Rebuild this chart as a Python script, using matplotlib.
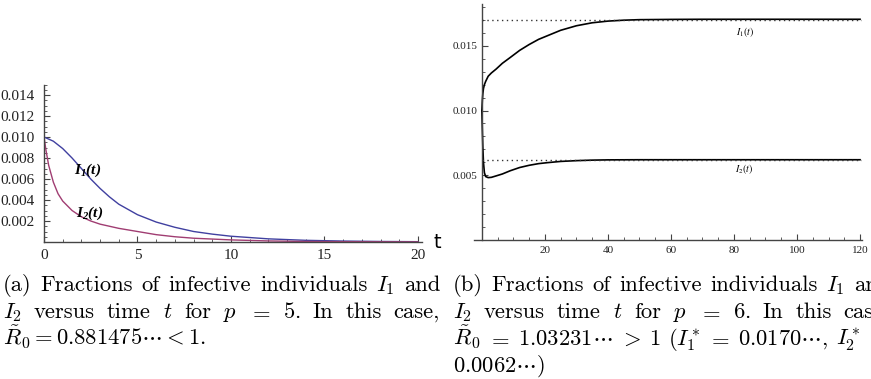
import matplotlib
matplotlib.use("Agg")
import matplotlib.pyplot as plt
from matplotlib.ticker import MultipleLocator, FixedLocator, FormatStrFormatter

# bold italic Times-like math for the left panel labels
plt.rcParams['mathtext.fontset'] = 'custom'
plt.rcParams['mathtext.it'] = 'Liberation Serif:italic:bold'
plt.rcParams['mathtext.rm'] = 'Liberation Serif:italic:bold'
plt.rcParams['mathtext.bf'] = 'Liberation Serif:italic:bold'

# Panel (a): p = 5, R0 < 1
t_a1 = [0, 0.5, 1, 1.5, 2, 2.5, 3, 3.5, 4, 4.5, 5, 6, 7, 8, 9, 10, 12, 14, 16, 18, 20]
I1_a = [0.0100, 0.0096, 0.0089, 0.0080, 0.0070, 0.0060, 0.0051, 0.0043, 0.0036, 0.0031, 0.0026,
        0.0019, 0.0014, 0.0010, 0.00075, 0.00055, 0.0003, 0.00016, 0.00009, 0.00005, 0.00003]
t_a2 = [0, 0.1, 0.25, 0.5, 0.75, 1, 1.5, 2, 2.5, 3, 4, 5, 6, 7, 8, 10, 12, 14, 16, 18, 20]
I2_a = [0.0100, 0.0088, 0.0073, 0.0057, 0.0046, 0.0039, 0.0030, 0.0024, 0.0020, 0.0017,
        0.0013, 0.0010, 0.0007, 0.0005, 0.00036, 0.0002, 0.0001, 0.00005, 0.00003, 0.00002, 0.00001]

# Panel (b): p = 6, R0 > 1
t_b1 = [0, 0.15, 0.3, 0.5, 0.8, 1.2, 2, 3, 4.5, 6.5, 9, 12, 15, 18, 21, 25, 30, 35, 40, 45, 50,
        60, 70, 80, 100, 120]
I1_b = [0.0100, 0.0108, 0.0113, 0.0117, 0.0120, 0.01225, 0.01265, 0.0129, 0.0132, 0.01365,
        0.0141, 0.01465, 0.0151, 0.0155, 0.0158, 0.0162, 0.01655, 0.01678, 0.01691, 0.01698,
        0.01702, 0.01704, 0.01705, 0.01705, 0.01705, 0.01705]
t_b2 = [0, 0.15, 0.3, 0.5, 0.8, 1.2, 2, 3, 4.5, 6.5, 9, 12, 15, 18, 21, 25, 30, 35, 40, 50, 60,
        80, 100, 120]
I2_b = [0.0100, 0.0085, 0.0072, 0.0060, 0.0052, 0.0049, 0.00482, 0.00484, 0.00495, 0.0051,
        0.00535, 0.0056, 0.00577, 0.0059, 0.00598, 0.00607, 0.00613, 0.00617, 0.00619, 0.0062,
        0.0062, 0.0062, 0.0062, 0.0062]
I1_star = 0.0170
I2_star = 0.0062

# captions, one string per printed line; the flag says whether the line is justified
caption_a = [(r"(a) Fractions of infective individuals $I_1$ and", True),
             (r"$I_2$ versus time $t$ for $p$ $=$ $5$.  In this case,", True),
             (r"$\tilde{R}_0=0.881475\cdots<1.$", False)]
caption_b = [(r"(b) Fractions of infective individuals $I_1$ and", True),
             (r"$I_2$ versus time $t$ for $p$ $=$ $6$.  In this case,", True),
             (r"$\tilde{R}_0$ $=$ $1.03231\cdots$ $>$ $1$ ($I_1^*$ $=$ $0.0170\cdots$, $I_2^*$ $=$", True),
             (r"$0.0062\cdots$)", False)]

W, H = 871, 379
fig = plt.figure(figsize=(W / 100, H / 100), dpi=100)


def px_axes(x0, x1, ytop, ybot):
    return fig.add_axes([x0 / W, 1 - ybot / H, (x1 - x0) / W, (ybot - ytop) / H])


def math_style(ax):
    for s in ['top', 'right']:
        ax.spines[s].set_visible(False)
    ax.spines['left'].set_position(('data', 0))
    ax.spines['bottom'].set_position(('data', 0))
    for s in ['left', 'bottom']:
        ax.spines[s].set_color('#444444')
        ax.spines[s].set_linewidth(1.0)
    ax.tick_params(which='both', direction='in', color='#444444')
    ax.tick_params(which='major', length=4, width=0.8)
    ax.tick_params(which='minor', length=2, width=0.6)
    ax.patch.set_alpha(0)


# left panel
ax1 = px_axes(44, 421.7, 84.5, 242)
ax1.plot(t_a1, I1_a, color='#4040a0', lw=1.0)
ax1.plot(t_a2, I2_a, color='#a03d72', lw=1.0)
ax1.set_xlim(0, 20.2)
ax1.set_ylim(0, 0.015)
math_style(ax1)
ax1.xaxis.set_major_locator(FixedLocator([0, 5, 10, 15, 20]))
ax1.xaxis.set_minor_locator(MultipleLocator(1))
ax1.yaxis.set_major_locator(FixedLocator([0.002, 0.004, 0.006, 0.008, 0.010, 0.012, 0.014]))
ax1.yaxis.set_minor_locator(MultipleLocator(0.0005))
ax1.yaxis.set_major_formatter(FormatStrFormatter('%.3f'))
for lab in ax1.get_xticklabels() + ax1.get_yticklabels():
    lab.set_fontfamily('Liberation Serif')
    lab.set_fontsize(11)
    lab.set_color('#222222')
ax1.tick_params(axis='x', pad=5)
ax1.tick_params(axis='y', pad=7)
ax1.text(2.35, 0.00686, r"$I_1(t)$", fontsize=11, ha='center', va='center')
ax1.text(2.46, 0.00276, r"$I_2(t)$", fontsize=11, ha='center', va='center')
fig.text(433 / W, 1 - 242 / H, "t", fontsize=14, family='DejaVu Sans', va='center')

# right panel
ax2 = px_axes(474, 861.6, 4.4, 240)
ax2.plot(t_b1, I1_b, color='black', lw=1.2)
ax2.plot(t_b2, I2_b, color='black', lw=1.2)
ax2.axhline(I1_star, xmin=2.5 / 123, color='#333333', lw=1.0, ls=(0, (1, 2.5)))
ax2.axhline(I2_star, xmin=2.5 / 123, color='#333333', lw=1.0, ls=(0, (1, 2.5)))
ax2.set_xlim(-2.5, 120.5)
ax2.set_ylim(0, 0.0182)
math_style(ax2)
ax2.xaxis.set_major_locator(FixedLocator([20, 40, 60, 80, 100, 120]))
ax2.xaxis.set_minor_locator(MultipleLocator(5))
ax2.yaxis.set_major_locator(FixedLocator([0.005, 0.010, 0.015]))
ax2.yaxis.set_minor_locator(MultipleLocator(0.001))
ax2.yaxis.set_major_formatter(FormatStrFormatter('%.3f'))
for lab in ax2.get_xticklabels() + ax2.get_yticklabels():
    lab.set_fontfamily('Liberation Serif')
    lab.set_fontsize(8)
    lab.set_color('#222222')
ax2.tick_params(axis='x', pad=4)
ax2.tick_params(axis='y', pad=3)
ax2.text(83.5, 0.01608, r"$I_1(t)$", fontsize=7, ha='center', va='center', math_fontfamily='stix')
ax2.text(83.3, 0.00546, r"$I_2(t)$", fontsize=7, ha='center', va='center', math_fontfamily='stix')

# captions, set word by word so that lines can be justified like LaTeX
FS = 16.3
renderer = fig.canvas.get_renderer()
space = FS * 100 / 72 * 0.333


def caption_line(x0, base, line, justify, width=437):
    words = line.split()
    texts = [fig.text(0, 1 - base / H, w, fontsize=FS, family='cmr10',
                      math_fontfamily='cm', va='baseline') for w in words]
    widths = [t.get_window_extent(renderer).width for t in texts]
    gap = space
    if justify and len(words) > 1:
        gap = max((width - sum(widths)) / (len(words) - 1), 0.6 * space)
    x = x0
    for t, w in zip(texts, widths):
        t.set_x(x / W)
        x += w + gap


baselines = [291, 318, 345, 372]
for i, (line, just) in enumerate(caption_a):
    caption_line(3, baselines[i], line, just)
for i, (line, just) in enumerate(caption_b):
    caption_line(453, baselines[i], line, just)

fig.savefig("out.png", dpi=100)
